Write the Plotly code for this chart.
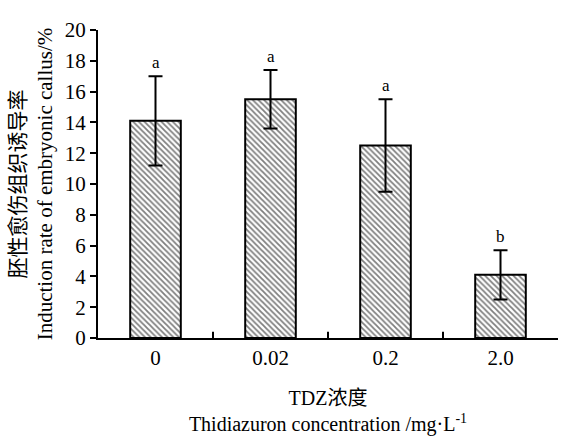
import plotly.graph_objects as go

categories = ["0", "0.02", "0.2", "2.0"]
values = [14.1, 15.5, 12.5, 4.1]
errors = [2.9, 1.9, 3.0, 1.6]
letters = ["a", "a", "a", "b"]
y_ticks = [0, 2, 4, 6, 8, 10, 12, 14, 16, 18, 20]

FONT = "'Liberation Serif', 'Times New Roman', 'Noto Sans CJK SC', serif"
xpos = list(range(len(categories)))

fig = go.Figure()
fig.add_trace(go.Bar(
    x=xpos, y=values, width=0.44,
    marker=dict(color="white", line=dict(color="black", width=2),
                pattern=dict(shape="\\", fgcolor="black", bgcolor="white",
                             size=4, solidity=0.45)),
    error_y=dict(type="data", array=errors, visible=True, color="black",
                 thickness=2, width=7),
    showlegend=False,
))

for i, (v, e, l) in enumerate(zip(values, errors, letters)):
    fig.add_annotation(x=i, y=v + e, text=l, showarrow=False, yanchor="bottom",
                       yshift=2, font=dict(family=FONT, size=17, color="black"))

for b in [0.5, 1.5, 2.5]:
    fig.add_shape(type="line", xref="x", yref="paper", x0=b, x1=b, y0=0, y1=0.02,
                  line=dict(color="black", width=2))

fig.update_layout(
    width=573, height=436,
    margin=dict(l=98, r=15, t=30, b=98),
    paper_bgcolor="white", plot_bgcolor="white",
    font=dict(family=FONT, size=20, color="black"),
    bargap=0.5,
    xaxis=dict(range=[-0.5, 3.5], tickvals=xpos, ticktext=categories, ticks="",
               showline=True, linecolor="black", linewidth=2, showgrid=False,
               zeroline=False, tickfont=dict(family=FONT, size=21), automargin=False,
               title=dict(text="TDZ浓度<br>Thidiazuron concentration /mg·L<sup>-1</sup>",
                          font=dict(family=FONT, size=20), standoff=24)),
    yaxis=dict(range=[0, 20], tickvals=y_ticks, ticks="outside", ticklen=6,
               tickwidth=2, tickcolor="black", showline=True, linecolor="black",
               linewidth=2, showgrid=False, zeroline=False, automargin=False,
               tickfont=dict(family=FONT, size=21),
               title=dict(text="胚性愈伤组织诱导率<br>Induction rate of embryonic callus/%",
                          font=dict(family=FONT, size=21), standoff=6)),
)

fig.write_html("out.html", config={"displayModeBar": False},
               post_script="document.body.style.margin='0px';")
